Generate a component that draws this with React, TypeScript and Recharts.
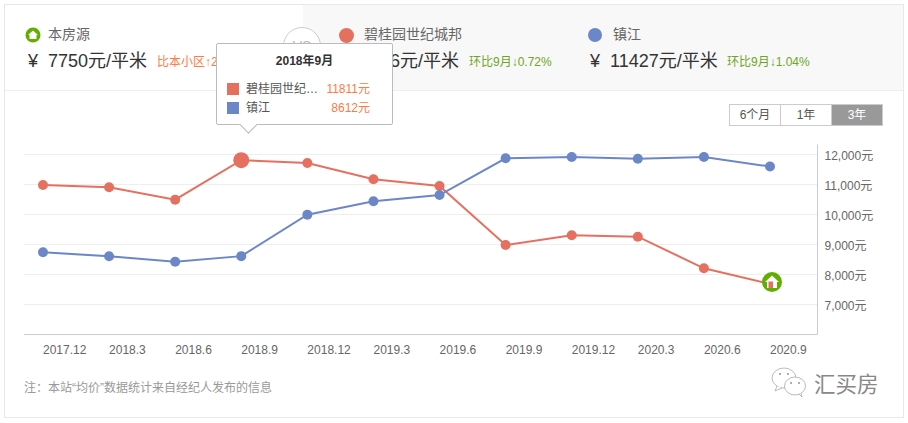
import { CartesianGrid, Line, LineChart, Tooltip, XAxis, YAxis } from 'recharts'

const months = ['2017.12', '2018.3', '2018.6', '2018.9', '2018.12', '2019.3', '2019.6', '2019.9', '2019.12', '2020.3', '2020.6', '2020.9']
const communityPrices = [10983, 10907, 10493, 11811, 11717, 11173, 10950, 8983, 9307, 9260, 8207, 7683]
const cityPrices = [8740, 8607, 8427, 8612, 9993, 10440, 10650, 11873, 11917, 11860, 11917, 11600]
const priceTicks = [7000, 8000, 9000, 10000, 11000, 12000]
const rangeTabs = ['6个月', '1年', '3年']

const communityName = '碧桂园世纪城邦'
const cityName = '镇江'

const chartData = months.map((month, i) => ({
  month,
  community: communityPrices[i],
  city: cityPrices[i],
}))

const PINK = '#e6705f'
const BLUE = '#6c87c8'
const GREEN = '#5fae00'
const ORANGE = '#ff7a45'
const FONT = '"Liberation Sans", "Noto Sans CJK SC", sans-serif'

const HIGHLIGHT = 3
const LAST = months.length - 1

function text(left: number, top: number, size: number, color: string, value: string, extra = {}) {
  return (
    <div
      style={{
        position: 'absolute',
        left,
        top,
        fontSize: size,
        lineHeight: `${size + 4}px`,
        color,
        whiteSpace: 'nowrap',
        ...extra,
      }}
    >
      {value}
    </div>
  )
}

function HomeMark({ cx, cy, r }: { cx: number; cy: number; r: number }) {
  const s = r / 10
  return (
    <g transform={`translate(${cx} ${cy}) scale(${s})`}>
      <circle r={10} fill={GREEN} />
      <path d="M-7 0 L0 -6.5 L7 0 L5 0 L5 6 L-5 6 L-5 0 Z" fill="#fff" />
      <rect x={-3.5} y={-0.5} width={4.5} height={6.5} fill={PINK} />
    </g>
  )
}

function CommunityDot(props: any) {
  const { cx, cy, index } = props
  if (index === LAST) return <HomeMark key={index} cx={cx + 2} cy={cy - 2} r={10} />
  return <circle key={index} cx={cx} cy={cy} r={index === HIGHLIGHT ? 8 : 5} fill={PINK} />
}

function CityDot(props: any) {
  const { cx, cy, index } = props
  return <circle key={index} cx={cx} cy={cy} r={5} fill={BLUE} />
}

function PriceTooltip() {
  const row = chartData[HIGHLIGHT]
  const rows = [
    { name: '碧桂园世纪…', color: PINK, value: row.community },
    { name: cityName, color: BLUE, value: row.city },
  ]
  return (
    <div
      style={{
        position: 'relative',
        width: 177,
        height: 82,
        boxSizing: 'border-box',
        background: '#fff',
        border: '1px solid #bbb',
        borderRadius: 2,
        fontFamily: FONT,
      }}
    >
      <div style={{ position: 'absolute', left: 0, right: 0, top: 9, textAlign: 'center', fontSize: 12, lineHeight: '16px', fontWeight: 'bold', color: '#333' }}>
        2018年9月
      </div>
      {rows.map((r, i) => (
        <div key={r.name} style={{ position: 'absolute', left: 0, right: 0, top: 38 + i * 19, height: 14 }}>
          <div style={{ position: 'absolute', left: 10, top: 1, width: 12, height: 12, background: r.color }} />
          <div style={{ position: 'absolute', left: 29, top: 0, fontSize: 12, lineHeight: '14px', color: '#555' }}>{r.name}</div>
          <div style={{ position: 'absolute', right: 22, top: 0, fontSize: 12, lineHeight: '14px', color: ORANGE }}>{r.value}元</div>
        </div>
      ))}
      <div
        style={{
          position: 'absolute',
          left: 25,
          top: 74,
          width: 12,
          height: 12,
          background: '#fff',
          borderRight: '1px solid #bbb',
          borderBottom: '1px solid #bbb',
          transform: 'rotate(45deg)',
        }}
      />
    </div>
  )
}

function Header() {
  return (
    <>
      <div style={{ position: 'absolute', left: 303, top: 5, width: 600, height: 85, background: '#f8f8f8' }} />
      <div style={{ position: 'absolute', left: 5, top: 90, width: 898, height: 1, background: '#eee' }} />
      <div
        style={{
          position: 'absolute',
          left: 283,
          top: 27,
          width: 38,
          height: 38,
          boxSizing: 'border-box',
          border: '1px solid #ccc',
          borderRadius: '50%',
          background: '#fff',
          color: '#bbb',
          fontSize: 14,
          lineHeight: '36px',
          textAlign: 'center',
        }}
      >
        VS
      </div>

      <svg style={{ position: 'absolute', left: 25, top: 27 }} width={16} height={16}>
        <circle cx={8} cy={8} r={7.5} fill={GREEN} />
        <path d="M3 8 L8 3.5 L13 8 L11.5 8 L11.5 12 L4.5 12 L4.5 8 Z" fill="#fff" />
      </svg>
      {text(48, 25, 14, '#666', '本房源')}
      {text(28, 50, 18, '#333', '¥')}
      {text(48, 50, 18, '#333', '7750元/平米')}
      {text(157, 54, 12, ORANGE, '比本小区↑2')}

      <div style={{ position: 'absolute', left: 339, top: 28, width: 15, height: 15, borderRadius: '50%', background: PINK }} />
      {text(364, 25, 14, '#666', communityName)}
      {text(340, 50, 18, '#333', '¥')}
      {text(360, 50, 18, '#333', '7686元/平米')}
      {text(469, 54, 12, '#6fa51f', '环比9月↓0.72%')}

      <div style={{ position: 'absolute', left: 588, top: 28, width: 14, height: 14, borderRadius: '50%', background: BLUE }} />
      {text(613, 25, 14, '#666', cityName)}
      {text(590, 50, 18, '#333', '¥')}
      {text(610, 50, 18, '#333', '11427元/平米')}
      {text(727, 54, 12, '#6fa51f', '环比9月↓1.04%')}
    </>
  )
}

function RangeTabs() {
  return (
    <div style={{ position: 'absolute', left: 729, top: 104, width: 154, height: 22, boxSizing: 'border-box', border: '1px solid #ccc', display: 'flex' }}>
      {rangeTabs.map((tab, i) => (
        <div
          key={tab}
          style={{
            flex: 1,
            fontSize: 12,
            lineHeight: '20px',
            textAlign: 'center',
            color: i === 2 ? '#fff' : '#555',
            background: i === 2 ? '#999' : '#fff',
            borderLeft: i === 0 ? 'none' : '1px solid #ccc',
          }}
        >
          {tab}
        </div>
      ))}
    </div>
  )
}

function Watermark() {
  return (
    <>
      <svg style={{ position: 'absolute', left: 770, top: 366 }} width={38} height={32}>
        <g fill="#fff" stroke="#aaa" strokeWidth={0.8}>
          <ellipse cx={14} cy={12} rx={12} ry={10} />
          <path d="M7 20 L5 25 L12 22" />
          <ellipse cx={25} cy={20} rx={10.5} ry={9} />
          <path d="M29 28 L32 31 L31 27" />
        </g>
        <g fill="#888">
          <circle cx={10} cy={8} r={0.9} />
          <circle cx={18} cy={8} r={0.9} />
          <circle cx={21} cy={17} r={0.9} />
          <circle cx={29} cy={17} r={0.9} />
        </g>
      </svg>
      {text(814, 373, 21.5, '#888', '汇买房', { lineHeight: '24px' })}
    </>
  )
}

export default function App() {
  return (
    <div style={{ position: 'absolute', left: 0, top: 0, width: 908, height: 423, overflow: 'hidden', background: '#fff', fontFamily: FONT }}>
      <div style={{ position: 'absolute', left: 4, top: 4, width: 900, height: 414, boxSizing: 'border-box', border: '1px solid #e8e8e8' }} />
      <Header />
      <RangeTabs />
      {text(24, 380, 12, '#999', '注：本站“均价”数据统计来自经纪人发布的信息')}
      <Watermark />

      <div style={{ position: 'absolute', left: 0, top: 0 }}>
        <LineChart
          width={908}
          height={423}
          data={chartData}
          margin={{ top: 144.5, right: 0, bottom: 0, left: 24 }}
          style={{ fontFamily: FONT }}
        >
          <CartesianGrid horizontal vertical={false} stroke="#eeeeee" horizontalValues={priceTicks} />
          <XAxis
            dataKey="month"
            scale="point"
            interval={0}
            height={88.5}
            padding={{ left: 19, right: 47.5 }}
            stroke="#cccccc"
            tickLine={false}
            tickMargin={5}
            tick={{ fontSize: 12, fill: '#666', textAnchor: 'start' }}
          />
          <YAxis
            orientation="right"
            type="number"
            domain={[6000, 12333.33]}
            ticks={priceTicks}
            width={90.5}
            stroke="#cccccc"
            tickLine={false}
            tickMargin={1}
            tick={{ fontSize: 12, fill: '#666', dy: 1 }}
            tickFormatter={(value: number) => `${value.toLocaleString('en-US')}元`}
          />
          <Tooltip
            active
            defaultIndex={HIGHLIGHT}
            cursor={false}
            isAnimationActive={false}
            position={{ x: 216, y: 43 }}
            allowEscapeViewBox={{ x: true, y: true }}
            content={<PriceTooltip />}
          />
          <Line
            dataKey="community"
            stroke={PINK}
            strokeWidth={2}
            dot={CommunityDot}
            activeDot={false}
            isAnimationActive={false}
          />
          <Line
            dataKey="city"
            stroke={BLUE}
            strokeWidth={2}
            dot={CityDot}
            activeDot={false}
            isAnimationActive={false}
          />
        </LineChart>
      </div>
    </div>
  )
}
